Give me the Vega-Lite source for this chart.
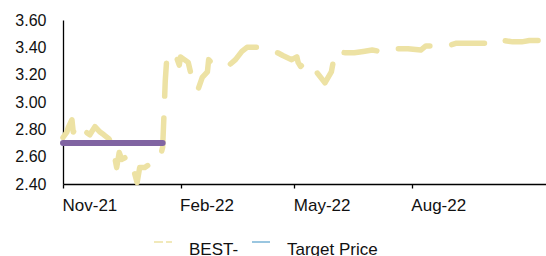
{
  "$schema": "https://vega.github.io/schema/vega-lite/v6.json",
  "width": 483,
  "height": 164,
  "autosize": "none",
  "padding": {"left": 63, "top": 20, "right": 0, "bottom": 72},
  "background": "white",
  "config": {
    "view": {"stroke": null},
    "font": "Liberation Sans",
    "axis": {"grid": false, "title": null, "domainColor": "#000000", "domainWidth": 1.3, "labelColor": "#111111", "labelFont": "Liberation Sans"},
    "legend": {"labelFont": "Liberation Sans"}
  },
  "datasets": {
    "best": [
      {"date": "2021/11/01", "value": 2.74, "series": "BEST-"},
      {"date": "2021/11/04", "value": 2.78, "series": "BEST-"},
      {"date": "2021/11/05", "value": 2.81, "series": "BEST-"},
      {"date": "2021/11/08", "value": 2.87, "series": "BEST-"},
      {"date": "2021/11/09", "value": 2.78, "series": "BEST-"},
      {"date": "2021/11/12", "value": 2.82, "series": "BEST-"},
      {"date": "2021/11/15", "value": 2.76, "series": "BEST-"},
      {"date": "2021/11/19", "value": 2.78, "series": "BEST-"},
      {"date": "2021/11/22", "value": 2.76, "series": "BEST-"},
      {"date": "2021/11/26", "value": 2.82, "series": "BEST-"},
      {"date": "2021/11/30", "value": 2.78, "series": "BEST-"},
      {"date": "2021/12/03", "value": 2.76, "series": "BEST-"},
      {"date": "2021/12/07", "value": 2.73, "series": "BEST-"},
      {"date": "2021/12/10", "value": 2.67, "series": "BEST-"},
      {"date": "2021/12/13", "value": 2.52, "series": "BEST-"},
      {"date": "2021/12/15", "value": 2.63, "series": "BEST-"},
      {"date": "2021/12/17", "value": 2.58, "series": "BEST-"},
      {"date": "2021/12/21", "value": 2.60, "series": "BEST-"},
      {"date": "2021/12/24", "value": 2.58, "series": "BEST-"},
      {"date": "2021/12/29", "value": 2.41, "series": "BEST-"},
      {"date": "2021/12/31", "value": 2.52, "series": "BEST-"},
      {"date": "2022/01/04", "value": 2.52, "series": "BEST-"},
      {"date": "2022/01/07", "value": 2.54, "series": "BEST-"},
      {"date": "2022/01/12", "value": 2.55, "series": "BEST-"},
      {"date": "2022/01/14", "value": 2.58, "series": "BEST-"},
      {"date": "2022/01/17", "value": 2.63, "series": "BEST-"},
      {"date": "2022/01/18", "value": 2.67, "series": "BEST-"},
      {"date": "2022/01/19", "value": 2.90, "series": "BEST-"},
      {"date": "2022/01/20", "value": 3.15, "series": "BEST-"},
      {"date": "2022/01/21", "value": 3.29, "series": "BEST-"},
      {"date": "2022/01/24", "value": 3.36, "series": "BEST-"},
      {"date": "2022/01/28", "value": 3.35, "series": "BEST-"},
      {"date": "2022/01/31", "value": 3.27, "series": "BEST-"},
      {"date": "2022/02/01", "value": 3.33, "series": "BEST-"},
      {"date": "2022/02/04", "value": 3.31, "series": "BEST-"},
      {"date": "2022/02/07", "value": 3.29, "series": "BEST-"},
      {"date": "2022/02/09", "value": 3.21, "series": "BEST-"},
      {"date": "2022/02/11", "value": 3.14, "series": "BEST-"},
      {"date": "2022/02/14", "value": 3.09, "series": "BEST-"},
      {"date": "2022/02/15", "value": 3.10, "series": "BEST-"},
      {"date": "2022/02/18", "value": 3.18, "series": "BEST-"},
      {"date": "2022/02/22", "value": 3.22, "series": "BEST-"},
      {"date": "2022/02/23", "value": 3.31, "series": "BEST-"},
      {"date": "2022/02/25", "value": 3.29, "series": "BEST-"},
      {"date": "2022/03/03", "value": 3.29, "series": "BEST-"},
      {"date": "2022/03/07", "value": 3.29, "series": "BEST-"},
      {"date": "2022/03/11", "value": 3.27, "series": "BEST-"},
      {"date": "2022/03/16", "value": 3.31, "series": "BEST-"},
      {"date": "2022/03/21", "value": 3.37, "series": "BEST-"},
      {"date": "2022/03/25", "value": 3.40, "series": "BEST-"},
      {"date": "2022/04/04", "value": 3.40, "series": "BEST-"},
      {"date": "2022/04/08", "value": 3.39, "series": "BEST-"},
      {"date": "2022/04/18", "value": 3.36, "series": "BEST-"},
      {"date": "2022/04/22", "value": 3.34, "series": "BEST-"},
      {"date": "2022/04/29", "value": 3.31, "series": "BEST-"},
      {"date": "2022/05/03", "value": 3.33, "series": "BEST-"},
      {"date": "2022/05/04", "value": 3.29, "series": "BEST-"},
      {"date": "2022/05/06", "value": 3.26, "series": "BEST-"},
      {"date": "2022/05/09", "value": 3.29, "series": "BEST-"},
      {"date": "2022/05/12", "value": 3.26, "series": "BEST-"},
      {"date": "2022/05/16", "value": 3.25, "series": "BEST-"},
      {"date": "2022/05/20", "value": 3.20, "series": "BEST-"},
      {"date": "2022/05/25", "value": 3.14, "series": "BEST-"},
      {"date": "2022/05/30", "value": 3.22, "series": "BEST-"},
      {"date": "2022/06/02", "value": 3.37, "series": "BEST-"},
      {"date": "2022/06/10", "value": 3.36, "series": "BEST-"},
      {"date": "2022/06/17", "value": 3.36, "series": "BEST-"},
      {"date": "2022/06/24", "value": 3.37, "series": "BEST-"},
      {"date": "2022/07/01", "value": 3.38, "series": "BEST-"},
      {"date": "2022/07/07", "value": 3.37, "series": "BEST-"},
      {"date": "2022/07/14", "value": 3.39, "series": "BEST-"},
      {"date": "2022/07/22", "value": 3.39, "series": "BEST-"},
      {"date": "2022/07/29", "value": 3.39, "series": "BEST-"},
      {"date": "2022/08/08", "value": 3.38, "series": "BEST-"},
      {"date": "2022/08/12", "value": 3.41, "series": "BEST-"},
      {"date": "2022/08/22", "value": 3.41, "series": "BEST-"},
      {"date": "2022/08/29", "value": 3.41, "series": "BEST-"},
      {"date": "2022/09/05", "value": 3.43, "series": "BEST-"},
      {"date": "2022/09/09", "value": 3.43, "series": "BEST-"},
      {"date": "2022/09/23", "value": 3.43, "series": "BEST-"},
      {"date": "2022/10/05", "value": 3.43, "series": "BEST-"},
      {"date": "2022/10/10", "value": 3.43, "series": "BEST-"},
      {"date": "2022/10/12", "value": 3.45, "series": "BEST-"},
      {"date": "2022/10/19", "value": 3.44, "series": "BEST-"},
      {"date": "2022/10/26", "value": 3.44, "series": "BEST-"},
      {"date": "2022/11/01", "value": 3.45, "series": "BEST-"},
      {"date": "2022/11/07", "value": 3.45, "series": "BEST-"},
      {"date": "2022/11/13", "value": 3.45, "series": "BEST-"}
    ],
    "target": [
      {"date": "2021/11/01", "value": 2.70, "series": "Target Price"},
      {"date": "2022/01/18", "value": 2.70, "series": "Target Price"}
    ]
  },
  "encoding": {
    "x": {
      "field": "date", "type": "temporal",
      "scale": {"domain": [{"year": 2021, "month": 11, "date": 1}, {"year": 2022, "month": 11, "date": 14}]},
      "axis": {
        "values": [{"year": 2021, "month": 11, "date": 1}, {"year": 2022, "month": 2, "date": 1}, {"year": 2022, "month": 5, "date": 1}, {"year": 2022, "month": 8, "date": 1}],
        "format": "%b-%y", "labelAlign": "left", "labelFontSize": 17, "tickSize": 4, "tickColor": "#000000", "tickWidth": 1.3, "labelPadding": 9, "labelOffset": -1
      }
    },
    "y": {
      "field": "value", "type": "quantitative",
      "scale": {"domain": [2.4, 3.6], "nice": false, "zero": false},
      "axis": {"values": [2.4, 2.6, 2.8, 3.0, 3.2, 3.4, 3.6], "format": ".2f", "ticks": false, "labelFontSize": 16, "labelPadding": 17}
    }
  },
  "layer": [
    {
      "data": {"name": "best"},
      "mark": {"type": "line", "strokeWidth": 5.5, "strokeCap": "round", "strokeJoin": "round", "strokeDash": [33, 22]},
      "encoding": {
        "color": {
          "field": "series", "type": "nominal",
          "scale": {"domain": ["BEST-", "Target Price"], "range": ["#EDE2A4", "#7AB4D6"]},
          "legend": {
            "title": null, "orient": "none", "direction": "horizontal", "legendX": 90, "legendY": 212,
            "symbolType": "stroke", "symbolSize": 324, "symbolStrokeWidth": 1.5, "labelFontSize": 17, "labelColor": "#111111",
            "labelOffset": 16, "columnPadding": 10, "padding": 0, "labelBaseline": "top",
            "encode": {"symbols": {"update": {
              "strokeDash": {"signal": "datum.label === 'Target Price' ? [1, 0] : [9, 3]"}
            }}}
          }
        }
      }
    },
    {
      "data": {"name": "target"},
      "mark": {"type": "line", "strokeWidth": 6, "strokeCap": "round"},
      "encoding": {"color": {"value": "#8064A2"}}
    }
  ]
}
